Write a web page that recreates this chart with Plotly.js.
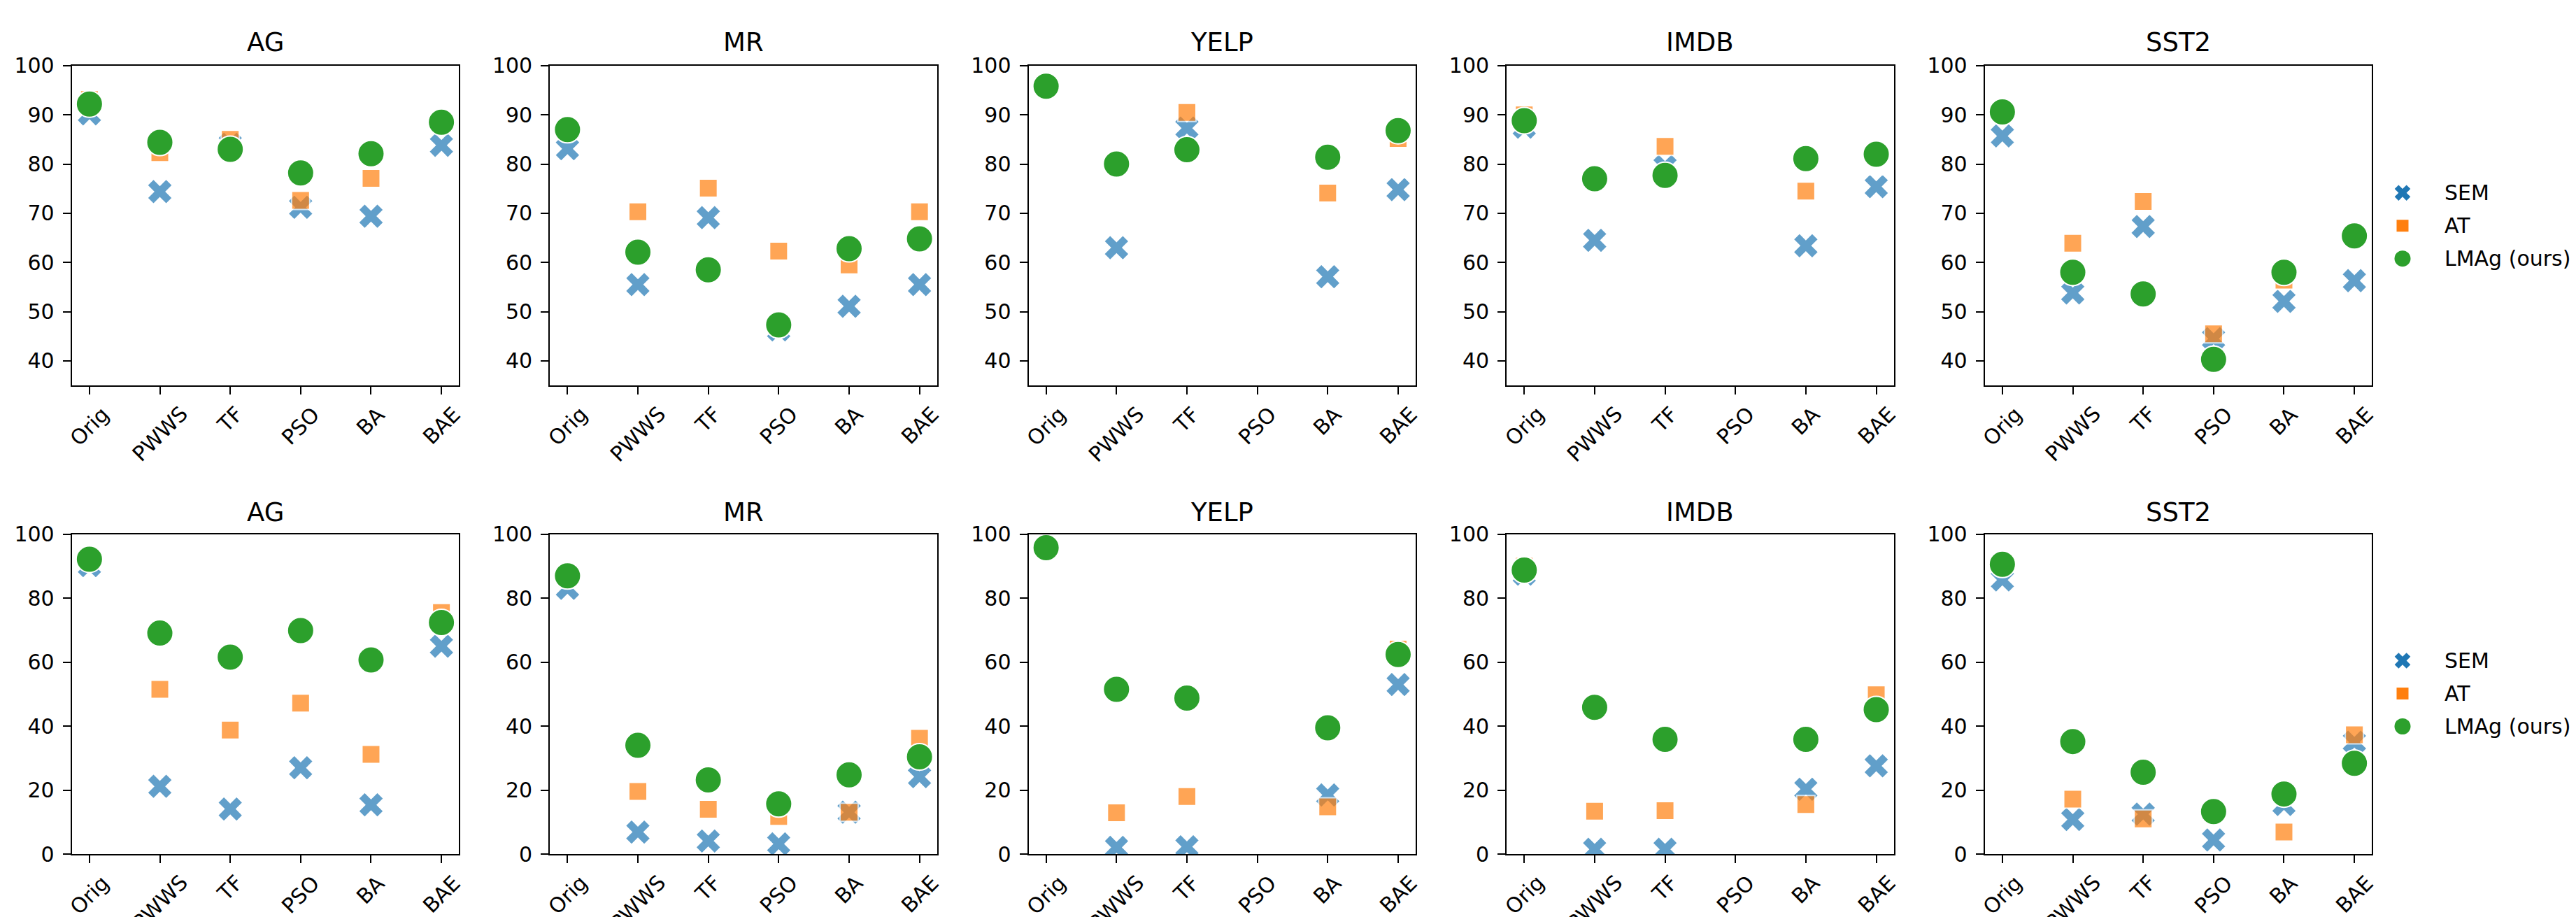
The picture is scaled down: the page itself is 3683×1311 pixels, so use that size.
<!DOCTYPE html>
<html>
<head>
<meta charset="utf-8">
<script src="https://cdn.plot.ly/plotly-3.0.1.min.js"></script>
<style>
html,body{margin:0;padding:0;background:#ffffff;}
#chart{width:3683px;height:1311px;}
</style>
</head>
<body>
<div id="chart"></div>
<script>
// ---------------- DATA ----------------
const categories = ["Orig", "PWWS", "TF", "PSO", "BA", "BAE"];
const datasets = ["AG", "MR", "YELP", "IMDB", "SST2"];
const seriesNames = ["SEM", "AT", "LMAg (ours)"];

// Top row (one list per dataset, in the order of `datasets`)
const topSEM = [
  [90.2, 74.4, 84.0, 71.2, 69.4, 83.8],
  [83.1, 55.5, 69.1, 46.3, 51.1, 55.5],
  [95.8, 63.0, 87.3, null, 57.1, 74.8],
  [87.5, 64.5, 79.5, null, 63.4, 75.4],
  [85.7, 53.8, 67.3, 44.5, 52.1, 56.3]
];
const topAT = [
  [93.1, 82.3, 85.0, 72.6, 77.1, 88.0],
  [87.0, 70.3, 75.1, 62.3, 59.5, 70.3],
  [95.8, 80.0, 90.5, null, 74.1, 85.2],
  [90.0, 77.0, 83.6, null, 74.5, 82.0],
  [90.5, 63.9, 72.4, 45.5, 56.4, 65.4]
];
const topLMAg = [
  [92.2, 84.4, 83.0, 78.2, 82.1, 88.5],
  [87.0, 62.1, 58.5, 47.3, 62.8, 64.8],
  [95.8, 80.0, 82.9, null, 81.4, 86.8],
  [88.8, 77.0, 77.7, null, 81.1, 82.0],
  [90.6, 58.0, 53.6, 40.3, 58.0, 65.4]
];

// Bottom row
const bottomSEM = [
  [90.2, 21.2, 14.1, 27.0, 15.4, 65.0],
  [83.1, 6.9, 4.1, 3.2, 13.1, 24.2],
  [95.8, 2.1, 2.3, null, 18.5, 53.0],
  [87.5, 1.5, 1.5, null, 20.3, 27.6],
  [85.7, 10.8, 12.5, 4.4, 15.5, 35.0]
];
const bottomAT = [
  [93.1, 51.5, 38.8, 47.2, 31.2, 75.5],
  [87.0, 19.6, 14.0, 11.8, 13.1, 36.2],
  [95.8, 12.9, 18.0, null, 14.8, 64.1],
  [90.0, 13.4, 13.6, null, 15.5, 49.8],
  [90.5, 17.2, 11.0, 13.0, 6.9, 37.3]
];
const bottomLMAg = [
  [92.2, 69.1, 61.6, 69.9, 60.7, 72.4],
  [87.0, 34.0, 23.2, 15.7, 24.8, 30.4],
  [95.8, 51.5, 48.8, null, 39.5, 62.4],
  [88.8, 45.9, 35.9, null, 35.9, 45.2],
  [90.6, 35.2, 25.6, 13.3, 18.8, 28.4]
];

const topTicks = [40, 50, 60, 70, 80, 90, 100];
const bottomTicks = [0, 20, 40, 60, 80, 100];

// ---------------- LAYOUT / STYLE ----------------
const W = 3683, H = 1311;
const FONT = "DejaVu Sans, sans-serif";
const panelLeft = [102.7, 786.2, 1470.5, 2154.1, 2837.7];
const panelW = 553.6;
const rowTop = [93.8, 763.8];
const rowH = 457.3;
const titleY = [61, 732];
const yRanges = [[35, 100], [0, 100]];
const yTickVals = [topTicks, bottomTicks];
const rows = [[topSEM, topAT, topLMAg], [bottomSEM, bottomAT, bottomLMAg]];

const markerStyles = [
  {symbol: "x", size: 32, color: "#1f77b4", opacity: 0.7, legendSize: 20},
  {symbol: "square", size: 26, color: "#ff7f0e", opacity: 0.7, legendSize: 17},
  {symbol: "circle", size: 38, color: "#2ca02c", opacity: 1, legendSize: 23}
];

// legend geometry (pixels)
const legendMarkerX = 3435, legendTextX = 3494;
const legendFirstY = [275.7, 944.5];
const legendStep = 47;

const traces = [];
const layout = {
  width: W, height: H,
  margin: {l: 0, r: 0, t: 0, b: 0, pad: 0},
  paper_bgcolor: "#ffffff",
  plot_bgcolor: "#ffffff",
  font: {family: FONT, color: "#000000", size: 30},
  showlegend: false,
  annotations: []
};

for (let r = 0; r < 2; r++) {
  const y0 = (H - (rowTop[r] + rowH)) / H;
  const y1 = (H - rowTop[r]) / H;
  for (let i = 0; i < 5; i++) {
    const k = r * 5 + i + 1;
    const xa = "x" + (k === 1 ? "" : k);
    const ya = "y" + (k === 1 ? "" : k);
    const x0 = panelLeft[i] / W;
    const x1 = (panelLeft[i] + panelW) / W;

    layout["xaxis" + (k === 1 ? "" : k)] = {
      domain: [x0, x1], anchor: ya, type: "category",
      range: [-0.25, 5.25],
      showline: true, mirror: true, linecolor: "#000000", linewidth: 2,
      ticks: "outside", ticklen: 11, tickwidth: 2, tickcolor: "#000000",
      showgrid: false, zeroline: false, showticklabels: false, fixedrange: true
    };
    layout["yaxis" + (k === 1 ? "" : k)] = {
      domain: [y0, y1], anchor: xa,
      range: yRanges[r], tickmode: "array", tickvals: yTickVals[r],
      ticktext: yTickVals[r].map(String),
      showline: true, mirror: true, linecolor: "#000000", linewidth: 2,
      ticks: "outside", ticklen: 11, tickwidth: 2, tickcolor: "#000000",
      showgrid: false, zeroline: false, fixedrange: true,
      tickfont: {family: FONT, size: 30, color: "#000000"},
      ticklabelstandoff: 6
    };

    // subplot title
    layout.annotations.push({
      text: datasets[i], xref: "paper", yref: "paper",
      x: (x0 + x1) / 2, y: (H - titleY[r]) / H,
      xanchor: "center", yanchor: "middle", showarrow: false,
      font: {family: FONT, size: 37, color: "#000000"}
    });

    // rotated category labels (centred on the tick like the original)
    categories.forEach(c => {
      layout.annotations.push({
        text: c, xref: xa, yref: ya + " domain",
        x: c, y: 0, xanchor: "center", yanchor: "top",
        yshift: -22, textangle: -45, showarrow: false, borderpad: 0,
        font: {family: FONT, size: 30, color: "#000000"}
      });
    });

    for (let s = 0; s < 3; s++) {
      const m = markerStyles[s];
      traces.push({
        type: "scatter", mode: "markers",
        x: categories, y: rows[r][s][i],
        xaxis: xa, yaxis: ya,
        name: seriesNames[s] + " – " + datasets[i],
        showlegend: false,
        cliponaxis: true,
        hoverinfo: "skip",
        marker: {symbol: m.symbol, size: m.size, color: m.color, opacity: m.opacity,
                 line: {color: "#ffffff", width: 2}}
      });
    }
  }

  // ---- legend for this row (hidden helper axes) ----
  const k = 11 + r;
  const lxa = "x" + k, lya = "y" + k;
  const topPx = legendFirstY[r] - 25, botPx = legendFirstY[r] + 2 * legendStep + 25;
  layout["xaxis" + k] = {
    domain: [(legendMarkerX - 30) / W, (legendMarkerX + 30) / W], anchor: lya,
    range: [-1, 1], visible: false, fixedrange: true
  };
  layout["yaxis" + k] = {
    domain: [(H - botPx) / H, (H - topPx) / H], anchor: lxa,
    range: [2 + 25 / legendStep, -25 / legendStep], visible: false, fixedrange: true
  };
  for (let s = 0; s < 3; s++) {
    const m = markerStyles[s];
    traces.push({
      type: "scatter", mode: "markers",
      x: [0], y: [s], xaxis: lxa, yaxis: lya,
      name: seriesNames[s], showlegend: false, cliponaxis: false, hoverinfo: "skip",
      marker: {symbol: m.symbol, size: m.legendSize, color: m.color, opacity: 1,
               line: {width: 0}}
    });
    layout.annotations.push({
      text: seriesNames[s], xref: "paper", yref: lya,
      x: legendTextX / W, y: s, xanchor: "left", yanchor: "middle",
      showarrow: false, borderpad: 0,
      font: {family: FONT, size: 30, color: "#000000"}
    });
  }
}

Plotly.newPlot("chart", traces, layout, {displayModeBar: false, responsive: false});
</script>
</body>
</html>
